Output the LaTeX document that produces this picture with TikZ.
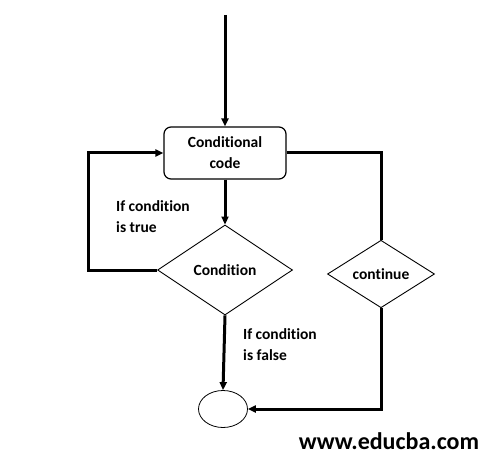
\documentclass[tikz,border=0pt]{standalone}
\usepackage{fontspec}
\setmainfont{Carlito}[Ligatures=NoCommon]
\usetikzlibrary{shapes.geometric,arrows.meta}
\begin{document}
\begin{tikzpicture}[x=1pt,y=-1pt,
    every node/.style={font=\bfseries\fontsize{15.5}{21}\selectfont},
    flow/.style={line width=3pt,-{Triangle[length=8pt,width=7pt]}},
    link/.style={line width=3pt}]
    \useasboundingbox (0,0) rectangle (495,465);
    \coordinate (start) at (225,15);
    \node [draw,line width=1.2pt,rounded corners=7pt,minimum width=122pt,minimum height=52pt,align=center] (code) at (225,153) {Conditional\\code};
    \node [draw,diamond,line width=0.9pt,minimum width=135pt,minimum height=90pt,inner sep=0] (cond) at (225,270) {Condition};
    \node [draw,diamond,line width=0.9pt,minimum width=107pt,minimum height=62pt,inner sep=0] (cont) at (381,274) {continue};
    \node [draw,ellipse,line width=0.8pt,minimum width=49pt,minimum height=37pt] (stop) at (223,409) {};
    \node [anchor=west,align=left,inner sep=0] (truetxt) at (116,217) {If condition\\is true};
    \node [anchor=west,align=left,inner sep=0] (falsetxt) at (243,345) {If condition\\is false};
    \node [font=\bfseries\fontsize{24}{28}\selectfont] (site) at (389,441) {www.educba.com};
    % connectors
    \draw [flow] (start) -- (code.north);
    \draw [flow] (code) -- (cond);
    \draw [flow] (cond.west) -- ++(-69,0) |- (code.west);
    \draw [link] (code.east) -| (cont.north);
    \draw [flow] (cont.south) |- (stop.east);
    \draw [flow] (cond.south) -- (stop.north);
\end{tikzpicture}
\end{document}
